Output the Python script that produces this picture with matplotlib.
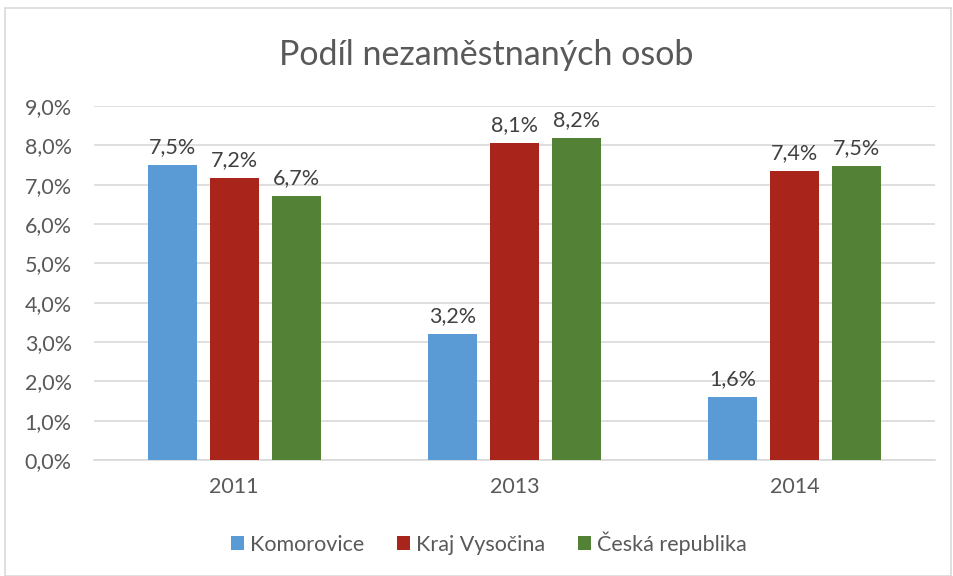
import numpy as np
import matplotlib
matplotlib.use("Agg")
import matplotlib.pyplot as plt
from matplotlib.patches import Rectangle

years = ["2011", "2013", "2014"]
series = ["Komorovice", "Kraj Vysočina", "Česká republika"]
komorovice = [7.5, 3.2, 1.6]
kraj = [7.17, 8.06, 7.36]
cr = [6.72, 8.19, 7.48]
colors = ["#5B9BD5", "#A9251B", "#538135"]

plt.rcParams['font.family'] = ['Lato', 'DejaVu Sans']
txt = "#595959"

fig = plt.figure(figsize=(9.54, 5.76), dpi=100)
fig.patches.append(Rectangle((5 / 954, 0), 946 / 954, 1 - 8 / 576, transform=fig.transFigure,
                             fill=False, edgecolor="#D9D9D9", linewidth=1.2))

ax = fig.add_axes([94 / 954, 1 - 460 / 576, (935 - 94) / 954, (460 - 106) / 576])
x = np.arange(len(years))
w = 0.174
step = 0.221
for i, (vals, name) in enumerate(zip([komorovice, kraj, cr], series)):
    pos = x + (i - 1) * step
    bars = ax.bar(pos, vals, w, color=colors[i], label=name, zorder=3)
    for b, v in zip(bars, vals):
        ax.text(b.get_x() + b.get_width() / 2, v + 0.2, ("%.1f%%" % v).replace(".", ","),
                ha="center", va="bottom", fontsize=15.5, color="#404040")

ax.set_xlim(-0.5, 2.5)
ax.set_ylim(0, 9)
ax.set_yticks(np.arange(0, 10))
ax.set_yticklabels([("%.1f%%" % v).replace(".", ",") for v in range(10)])
ax.set_xticks(x)
ax.set_xticklabels(years)
ax.tick_params(axis="both", length=0, labelsize=15.5, labelcolor=txt)
ax.tick_params(axis="x", pad=12)
ax.tick_params(axis="y", pad=16)
ax.grid(axis="y", color="#D9D9D9", linewidth=1.2, zorder=0)
for s in ["top", "right", "left"]:
    ax.spines[s].set_visible(False)
ax.spines["bottom"].set_color("#D9D9D9")
ax.spines["bottom"].set_linewidth(1.2)

fig.text(486 / 954, 1 - 55 / 576, "Podíl nezaměstnaných osob", ha="center", va="center",
         fontsize=24.5, color=txt)

fig.legend(loc="center", bbox_to_anchor=(489 / 954, 1 - 543 / 576), ncol=3, frameon=False,
           fontsize=15.5, labelcolor=txt, handlelength=0.6, handleheight=0.6,
           handletextpad=0.3, columnspacing=1.5)

fig.savefig("out.png", dpi=100)
